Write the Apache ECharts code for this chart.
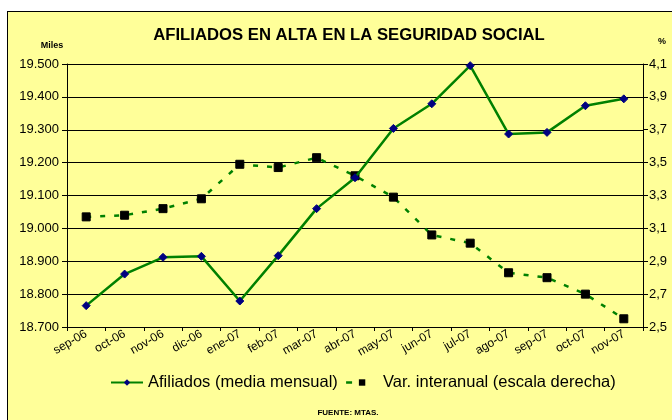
<!DOCTYPE html>
<html>
<head>
<meta charset="utf-8">
<script src="https://cdn.jsdelivr.net/npm/echarts@6/dist/echarts.min.js"></script>
<style>
html,body{margin:0;padding:0;background:#fff;}
#wrap{position:relative;width:672px;height:420px;overflow:hidden;}
#frame{position:absolute;left:7px;top:11px;width:700px;height:500px;background:#FFFF99;border:1.5px solid #000;box-sizing:border-box;}
#chart{position:absolute;left:0;top:0;width:672px;height:420px;}
</style>
</head>
<body>
<div id="wrap"><div id="frame"></div><div id="chart"></div></div>
<script>
const categories = ['sep-06','oct-06','nov-06','dic-06','ene-07','feb-07','mar-07','abr-07','may-07','jun-07','jul-07','ago-07','sep-07','oct-07','nov-07'];
const afiliados = [18765, 18861, 18912, 18915, 18779, 18917, 19060, 19154, 19304, 19379, 19495, 19287, 19292, 19373, 19394];
const varInteranual = [3.17, 3.18, 3.22, 3.28, 3.49, 3.47, 3.53, 3.42, 3.29, 3.06, 3.01, 2.83, 2.80, 2.70, 2.55];
const leftTicks = {min: 18700, max: 19500, interval: 100};
const rightTicks = {min: 2.5, max: 4.1, interval: 0.2};

const chart = echarts.init(document.getElementById('chart'), null, {renderer: 'canvas'});
const font = 'Arial, "Liberation Sans", sans-serif';
chart.setOption({
  backgroundColor: 'transparent',
  textStyle: {fontFamily: font},
  title: [
    {text: 'AFILIADOS EN ALTA EN LA SEGURIDAD SOCIAL', left: 344, top: 22, textAlign: 'center',
     textStyle: {fontSize: 16.7, fontWeight: 'bold', color: '#000', fontFamily: font}},
    {text: 'Miles', left: 47, top: 36, textAlign: 'center',
     textStyle: {fontSize: 9, fontWeight: 'bold', color: '#000', fontFamily: font}},
    {text: '%', left: 657, top: 32, textAlign: 'center',
     textStyle: {fontSize: 9, fontWeight: 'bold', color: '#000', fontFamily: font}},
    {text: 'FUENTE: MTAS.', left: 343, top: 404, textAlign: 'center',
     textStyle: {fontSize: 8, fontWeight: 'bold', color: '#000', fontFamily: font}}
  ],
  legend: {
    left: 105, top: 369,
    itemWidth: 32, itemHeight: 8, itemGap: 7,
    textStyle: {fontSize: 16.5, color: '#000', fontFamily: font},
    data: [
      {name: 'Afiliados (media mensual)'},
      {name: 'Var. interanual (escala derecha)', lineStyle: {type: [6, 26], width: 2.5, color: '#008000'}}
    ]
  },
  grid: {left: 67, right: 29, top: 64, bottom: 93},
  xAxis: {
    type: 'category', data: categories, boundaryGap: true,
    axisLine: {lineStyle: {color: '#000', width: 1}},
    axisTick: {show: true, length: 4, lineStyle: {color: '#000'}},
    axisLabel: {rotate: 30, fontSize: 12, color: '#000', margin: 6, interval: 0, fontFamily: font}
  },
  yAxis: [
    {type: 'value', position: 'left', min: leftTicks.min, max: leftTicks.max, interval: leftTicks.interval,
     axisLine: {show: true, lineStyle: {color: '#000'}},
     axisTick: {show: true, length: 5, lineStyle: {color: '#000'}},
     splitLine: {show: true, lineStyle: {color: '#000', width: 1}},
     axisLabel: {fontSize: 13, color: '#000', margin: 8, fontFamily: font,
       formatter: v => String(v).replace(/\B(?=(\d{3})+(?!\d))/g, '.')}},
    {type: 'value', position: 'right', min: rightTicks.min, max: rightTicks.max, interval: rightTicks.interval,
     axisLine: {show: true, lineStyle: {color: '#000'}},
     axisTick: {show: true, length: 5, lineStyle: {color: '#000'}},
     splitLine: {show: false},
     axisLabel: {fontSize: 13, color: '#000', margin: 6, fontFamily: font,
       formatter: v => v.toFixed(1).replace('.', ',')}}
  ],
  series: [
    {name: 'Afiliados (media mensual)', type: 'line', yAxisIndex: 0, data: afiliados,
     symbol: 'diamond', symbolSize: 8,
     lineStyle: {color: '#008000', width: 2.5},
     itemStyle: {color: '#000080', borderColor: '#000080'},
     z: 3},
    {name: 'Var. interanual (escala derecha)', type: 'line', yAxisIndex: 1, data: varInteranual,
     symbol: 'rect', symbolSize: 8,
     lineStyle: {color: '#008000', width: 2.5, type: [5, 9]},
     itemStyle: {color: '#000', borderColor: '#000'},
     z: 2}
  ],
  animation: false
});
</script>
</body>
</html>
